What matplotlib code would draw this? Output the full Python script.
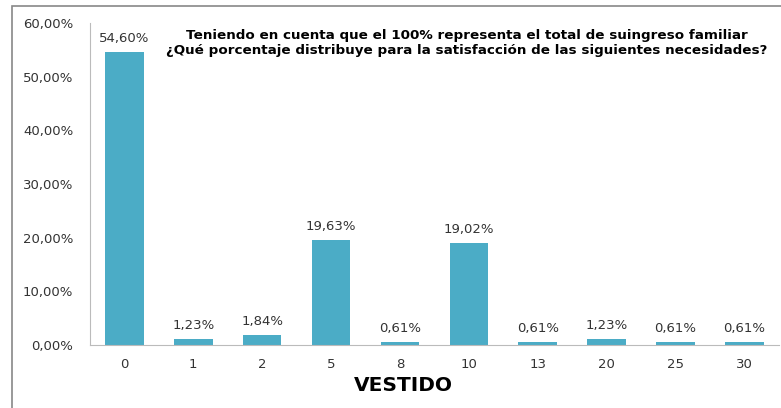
import matplotlib.pyplot as plt
from matplotlib.patches import Rectangle
from matplotlib.ticker import FuncFormatter

categories = ["0", "1", "2", "5", "8", "10", "13", "20", "25", "30"]
values = [54.60, 1.23, 1.84, 19.63, 0.61, 19.02, 0.61, 1.23, 0.61, 0.61]
yticks = [0, 10, 20, 30, 40, 50, 60]

plt.rcParams['font.family'] = ['DejaVu Sans']

fig = plt.figure(figsize=(7.81, 4.08), dpi=100)
ax = fig.add_axes([0.1152, 0.154, 0.882, 0.79])

x = range(len(categories))
ax.bar(x, values, width=0.56, color="#4BACC6")

for xi, v in zip(x, values):
    ax.text(xi, v + 1.3, f"{v:.2f}%".replace(".", ","), ha="center", va="bottom",
            fontsize=9.5, color="#333333")

ax.set_xlim(-0.5, len(categories) - 0.5)
ax.set_ylim(0, 60)
ax.set_yticks(yticks)
ax.yaxis.set_major_formatter(FuncFormatter(lambda v, p: f"{v:.2f}%".replace(".", ",")))
ax.set_xticks(list(x))
ax.set_xticklabels(categories)
ax.tick_params(axis="x", labelsize=9.5, colors="#333333", length=0, pad=9)
ax.tick_params(axis="y", labelsize=9.5, colors="#333333", length=0, pad=12)

for s in ["top", "right"]:
    ax.spines[s].set_visible(False)
ax.spines["left"].set_color("#BBBBBB")
ax.spines["bottom"].set_color("#BBBBBB")

ax.set_xlabel("VESTIDO", fontsize=14.5, fontweight="bold")
ax.xaxis.set_label_coords(0.455, -0.095)

ax.text(0.547, 0.982,
        "Teniendo en cuenta que el 100% representa el total de suingreso familiar\n"
        "¿Qué porcentaje distribuye para la satisfacción de las siguientes necesidades?",
        transform=ax.transAxes, ha="center", va="top", fontsize=9.7,
        fontweight="bold", linespacing=1.2)

fig.patches.append(Rectangle((0.015, -0.1), 1.2, 1.085, transform=fig.transFigure,
                             fill=False, edgecolor="#888888", linewidth=1.2))

fig.savefig("out.png", dpi=100)
